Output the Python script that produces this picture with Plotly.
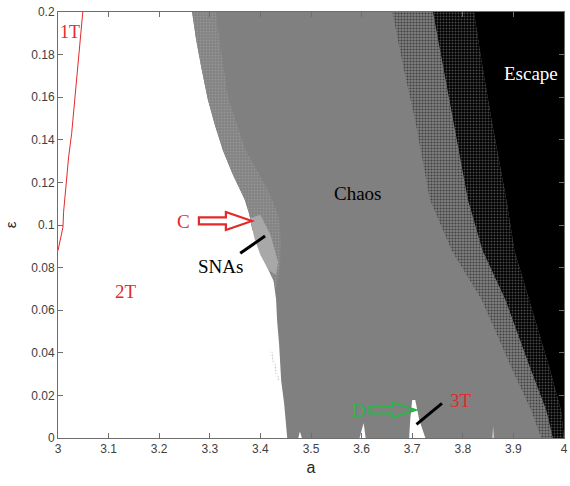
import plotly.graph_objects as go

# ---------------- axis ticks ----------------
x_ticks = [3.0, 3.1, 3.2, 3.3, 3.4, 3.5, 3.6, 3.7, 3.8, 3.9, 4.0]
x_tick_text = ["3", "3.1", "3.2", "3.3", "3.4", "3.5", "3.6", "3.7", "3.8", "3.9", "4"]
y_ticks = [0.0, 0.02, 0.04, 0.06, 0.08, 0.10, 0.12, 0.14, 0.16, 0.18, 0.20]
y_tick_text = ["0", "0.02", "0.04", "0.06", "0.08", "0.1", "0.12", "0.14", "0.16", "0.18", "0.2"]

# ---------------- region boundaries ----------------
# 1T / 2T boundary (red line)
line_1T_a = [3.000, 3.0098, 3.011, 3.0157, 3.021, 3.027, 3.041, 3.049]
line_1T_eps = [0.088, 0.099, 0.106, 0.120, 0.132, 0.143, 0.181, 0.200]

# left edge of the chaotic region (2T -> chaos)
chaos_a = [3.265, 3.273, 3.284, 3.296, 3.310, 3.326, 3.345, 3.369, 3.378, 3.384,
           3.396, 3.406, 3.426, 3.431, 3.433, 3.437, 3.441, 3.447, 3.453]
chaos_eps = [0.200, 0.187, 0.173, 0.159, 0.147, 0.135, 0.124, 0.112, 0.105, 0.098,
             0.091, 0.084, 0.074, 0.065, 0.055, 0.044, 0.027, 0.016, 0.000]

# inner edge of the light (SNA) band
sna_inner_a = [3.312, 3.322, 3.337, 3.371, 3.416, 3.435, 3.441, 3.439, 3.431]
sna_inner_eps = [0.200, 0.182, 0.159, 0.135, 0.116, 0.105, 0.093, 0.081, 0.0695]

# solid SNA patch near arrow C
sna_patch_a = [3.380, 3.400, 3.420, 3.435, 3.431, 3.416, 3.400, 3.388]
sna_patch_eps = [0.1033, 0.1047, 0.0953, 0.0826, 0.0765, 0.0789, 0.0859, 0.0939]

# small light streak left of boundary
sna_streak_a = [3.418, 3.423, 3.438, 3.434]
sna_streak_eps = [0.0413, 0.0408, 0.0272, 0.0268]

# escape transition: start of speckle, middle, solid black
esc_eps = [0.200, 0.177, 0.149, 0.112, 0.088, 0.065, 0.033, 0.013, 0.000]
esc_b1_a = [3.661, 3.680, 3.706, 3.735, 3.778, 3.837, 3.896, 3.935, 3.955]
esc_b2_a = [3.741, 3.759, 3.780, 3.810, 3.839, 3.884, 3.933, 3.965, 3.978]
esc_b3_a = [3.822, 3.837, 3.857, 3.886, 3.902, 3.931, 3.971, 3.994, 4.000]

# periodic windows at small epsilon (white)
win_3T_a = [3.694, 3.696, 3.700, 3.706, 3.710, 3.714, 3.726]
win_3T_eps = [0.000, 0.0085, 0.0178, 0.0178, 0.0131, 0.0085, 0.000]
win_36_a = [3.596, 3.604, 3.608]
win_36_eps = [0.000, 0.0070, 0.000]
win_348_a = [3.475, 3.478, 3.482]
win_348_eps = [0.000, 0.0030, 0.000]
win_386_a = [3.858, 3.860, 3.862]
win_386_eps = [0.000, 0.0055, 0.000]

# ---------------- colours ----------------
GRAY = "#808080"
RED = "#e32a2a"
GREEN = "#2db34a"

fig = go.Figure()


def poly(xs, ys, color, pattern=None):
    kw = dict(x=xs, y=ys, mode="lines", fill="toself", fillcolor=color,
              line=dict(width=0, color=color), hoverinfo="skip", showlegend=False)
    if pattern is not None:
        kw["fillpattern"] = pattern
    fig.add_trace(go.Scatter(**kw))


# chaos region (everything right of the boundary)
poly(chaos_a + [4.0, 4.0], chaos_eps + [0.0, 0.2], GRAY)

# SNA speckled band
k = 13
poly(chaos_a[:k] + sna_inner_a[::-1], chaos_eps[:k] + sna_inner_eps[::-1], "#848484",
     dict(shape=".", bgcolor="#848484", fgcolor="#aaaaaa", size=3, solidity=0.25))
poly(sna_patch_a, sna_patch_eps, "#a8a8a8")
poly(sna_streak_a, sna_streak_eps, "#d0d0d0",
     dict(shape=".", bgcolor="#ffffff", fgcolor="#a0a0a0", size=3, solidity=0.3))

# escape speckled transition
poly(esc_b1_a + esc_b2_a[::-1], esc_eps + esc_eps[::-1], GRAY,
     dict(shape=".", bgcolor=GRAY, fgcolor="#000000", size=3, solidity=0.4))
poly(esc_b2_a + esc_b3_a[::-1], esc_eps + esc_eps[::-1], "#000000",
     dict(shape=".", bgcolor="#000000", fgcolor="#949494", size=3, solidity=0.35))
poly(esc_b3_a + [4.0, 4.0], esc_eps + [0.0, 0.2], "#000000")

# periodic windows
poly(win_3T_a, win_3T_eps, "#ffffff")
poly(win_36_a, win_36_eps, "#ffffff")
poly(win_348_a, win_348_eps, "#ffffff")
poly(win_386_a, win_386_eps, "#c8c8c8")

# 1T boundary line
fig.add_trace(go.Scatter(x=line_1T_a, y=line_1T_eps, mode="lines",
                         line=dict(color=RED, width=1), hoverinfo="skip", showlegend=False))

# ---------------- annotations ----------------
SERIF = "Liberation Serif, Times New Roman, serif"


def label(x, y, text, color, size=19):
    fig.add_annotation(x=x, y=y, text=text, showarrow=False, xref="x", yref="y",
                       font=dict(family=SERIF, size=size, color=color))


label(3.0235, 0.1905, "1T", RED, 18)
label(3.249, 0.1015, "C", RED)
label(3.135, 0.069, "2T", RED)
label(3.322, 0.0805, "SNAs", "#000000")
label(3.592, 0.115, "Chaos", "#000000")
label(3.935, 0.171, "Escape", "#ffffff")
label(3.594, 0.0131, "D", GREEN)
label(3.796, 0.0174, "3T", RED)

# hollow arrows (pixel geometry anchored at data points)
arrow_C = "M0,3.5 L27,3.5 L27,9 L53,0 L27,-9 L27,-3.5 L0,-3.5 Z"
arrow_D = "M0,3.5 L23,3.5 L23,7.5 L46,0 L23,-7.5 L23,-3.5 L0,-3.5 Z"
fig.add_shape(type="path", path=arrow_C, xsizemode="pixel", ysizemode="pixel",
              xanchor=3.2784, yanchor=0.1019, xref="x", yref="y",
              line=dict(color=RED, width=2.2), fillcolor="rgba(255,255,255,1)")
fig.add_shape(type="path", path=arrow_D, xsizemode="pixel", ysizemode="pixel",
              xanchor=3.6157, yanchor=0.01315, xref="x", yref="y",
              line=dict(color=GREEN, width=2.2), fillcolor=GRAY)

# pointer lines
fig.add_shape(type="line", x0=3.3602, y0=0.0867, x1=3.4092, y1=0.0948,
              xref="x", yref="y", line=dict(color="#000000", width=3))
fig.add_shape(type="line", x0=3.7085, y0=0.0064, x1=3.7588, y1=0.0163,
              xref="x", yref="y", line=dict(color="#000000", width=3))

# ---------------- layout ----------------
axis_common = dict(showgrid=False, zeroline=False, showline=True, linecolor="#6e6e6e",
                   linewidth=1, mirror="ticks", ticks="inside", ticklen=5,
                   tickcolor="#6e6e6e", tickwidth=1, ticklabeloverflow="allow",
                   tickfont=dict(family="Liberation Sans, Arial", size=12, color="#404040"),
                   layer="above traces")

fig.update_layout(
    width=570, height=486,
    margin=dict(l=58, r=2, t=12, b=48),
    paper_bgcolor="#ffffff", plot_bgcolor="#ffffff",
    xaxis=dict(range=[3, 4], tickvals=x_ticks, ticktext=x_tick_text,
               title=dict(text="a", standoff=6,
                          font=dict(family="Liberation Sans, Arial", size=16, color="#262626")),
               **axis_common),
    yaxis=dict(range=[0, 0.2], tickvals=y_ticks, ticktext=y_tick_text,
               title=dict(text="ε", standoff=10,
                          font=dict(family="Liberation Sans, Arial", size=15, color="#262626")),
               **axis_common),
)

fig.write_html("out.html")
